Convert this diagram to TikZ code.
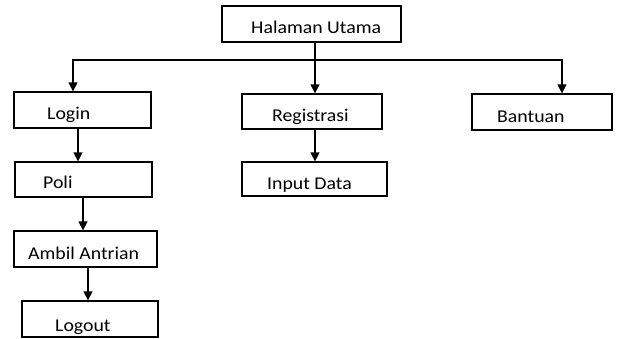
\documentclass[tikz,border=0pt]{standalone}
\usepackage{fontspec}
\setmainfont{Carlito}[FakeStretch=1.1]
\usetikzlibrary{arrows.meta,calc}
\tikzset{
  box/.style={draw=black, line width=1.3pt, rectangle, inner sep=0pt},
  txt/.style={anchor=base west, inner sep=0pt, font=\fontsize{18pt}{20pt}\selectfont, text=black},
  conn/.style={draw=black, line width=1.3pt},
  arr/.style={conn, -{Triangle[length=9pt,width=9pt]}}
}
\begin{document}
\begin{tikzpicture}[x=1pt,y=1pt]
\useasboundingbox (0,0) rectangle (619,-338);
% boxes
\node[box, minimum width=179pt, minimum height=36pt] (main) at (311.5,-24) {};
\node[box, minimum width=137pt, minimum height=36pt] (login) at (82.5,-110) {};
\node[box, minimum width=140pt, minimum height=35pt] (reg) at (312,-111.5) {};
\node[box, minimum width=140pt, minimum height=36pt] (bantuan) at (542,-112) {};
\node[box, minimum width=145pt, minimum height=34pt] (input) at (314.5,-179) {};
\node[box, minimum width=137pt, minimum height=35pt] (poli) at (83.5,-179.5) {};
\node[box, minimum width=143pt, minimum height=36pt] (ambil) at (85.5,-249) {};
\node[box, minimum width=136pt, minimum height=36pt] (logout) at (90,-319) {};
% texts
\node[txt] (tmain) at (251,-33.5) {Halaman Utama};
\node[txt] (tlogin) at (47,-119) {Login};
\node[txt] (treg) at (272,-121.5) {Registrasi};
\node[txt] (tbantuan) at (497,-122) {Bantuan};
\node[txt] (tinput) at (267,-189.5) {Input Data};
\node[txt] (tpoli) at (43,-188) {Poli};
\node[txt] (tambil) at (28,-259) {Ambil Antrian};
\node[txt] (tlogout) at (55,-331) {Logout};
% connectors
\coordinate (j) at (315,-60);
\coordinate (pa) at (83,-60);
\draw[conn] (main.south -| j) -- (j);
\draw[arr] (j) -| ([xshift=-9.5pt]login.north);
\draw[arr] (j) -| ([xshift=20pt]bantuan.north);
\draw[arr] (j) -- (j |- reg.north);
\draw[arr] ([xshift=-4.5pt]login.south) -- ([xshift=-4.5pt]login.south |- poli.north);
\draw[arr] (j |- reg.south) -- (j |- input.north);
\draw[arr] (pa |- poli.south) -- (pa |- ambil.north);
\draw[arr] ([xshift=2.5pt]ambil.south) -- ([xshift=2.5pt]ambil.south |- logout.north);
\end{tikzpicture}
\end{document}
